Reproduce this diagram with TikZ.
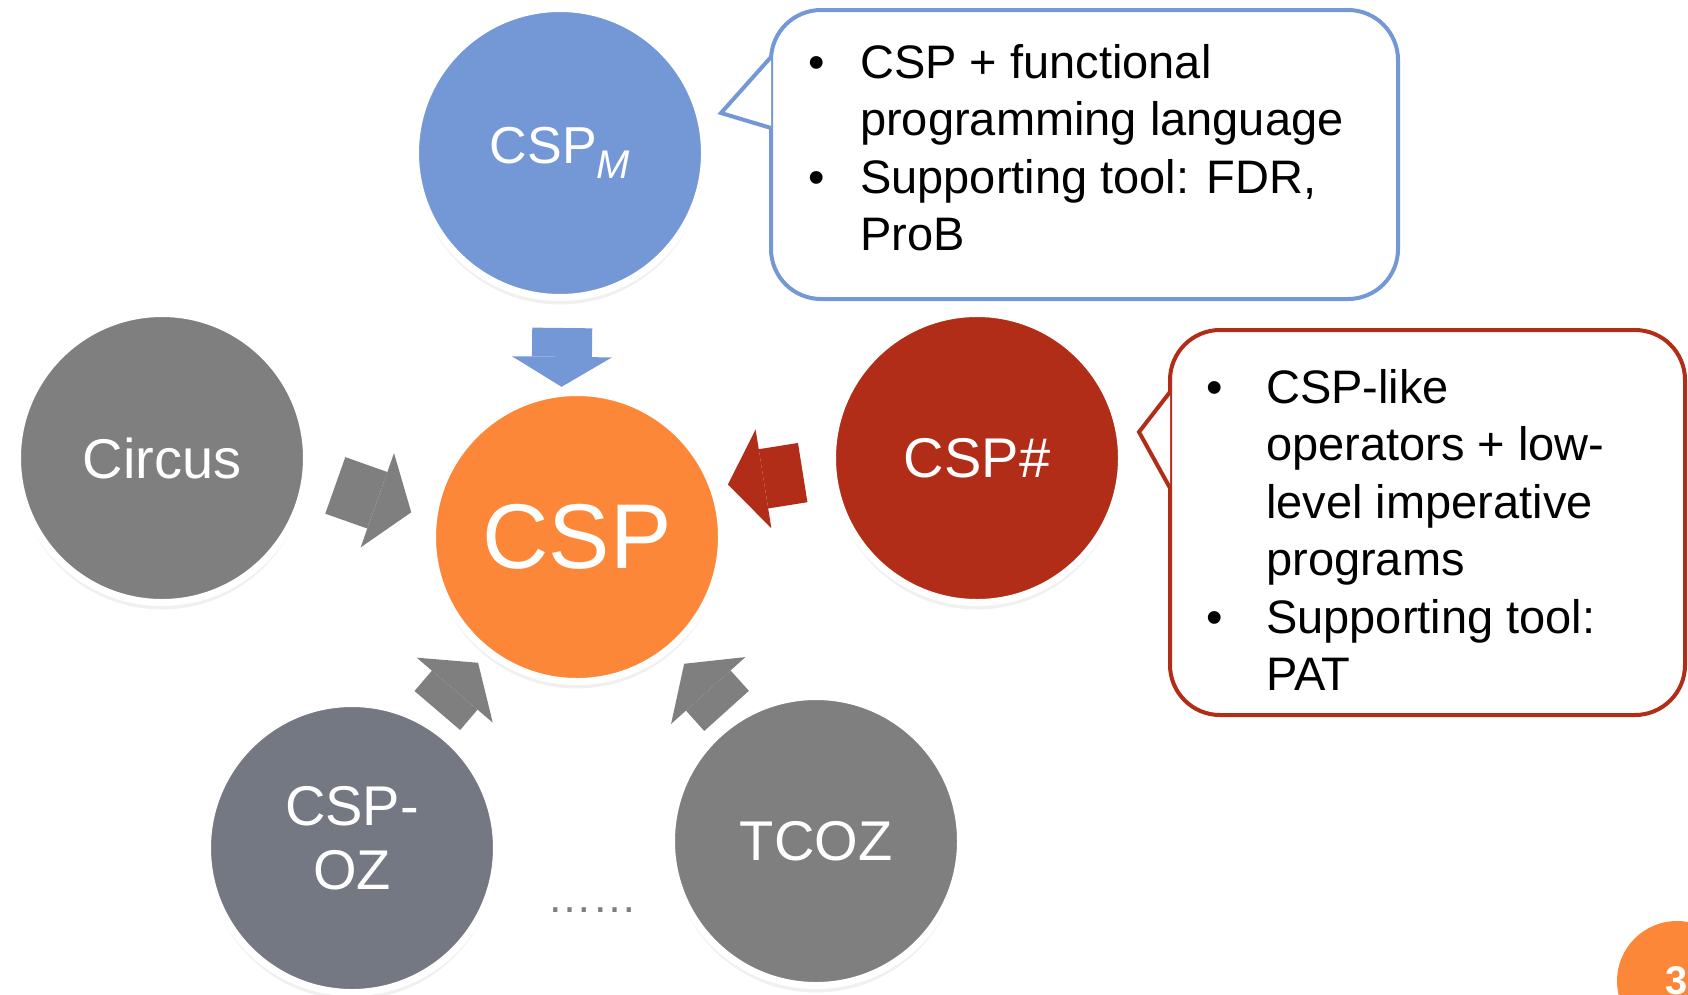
\documentclass[tikz,border=0pt]{standalone}
\usepackage{fontspec}
\setmainfont{Liberation Sans}
\usetikzlibrary{arrows.meta,shadows}

\definecolor{cspBlue}{RGB}{116,152,214}
\definecolor{cspOrange}{RGB}{253,135,56}
\definecolor{cspRed}{RGB}{178,45,24}
\definecolor{ballGray}{RGB}{127,127,127}
\definecolor{ozGray}{RGB}{116,120,130}

\newcommand{\bul}[1][0pt]{\makebox[60pt][l]{\hspace*{#1}\textbullet}}
\newcommand{\ind}{\hspace*{60pt}}

\tikzset{
  ball/.style={circle, draw=white, line width=7pt, minimum size=289pt, inner sep=0pt,
    text=white, font=\fontsize{56}{64}\selectfont,
    drop shadow={opacity=0.12, shadow xshift=0pt, shadow yshift=-7pt}},
  fatarrow/.style={line width=60pt,
    -{Triangle[length=#1 0 0, width=100pt 0 0, line width=0pt 0 0]}},
  fatarrow/.default=36pt,
  callout/.style={draw=#1, line width=4pt, fill=white, rounded corners=50pt,
    inner sep=0pt, anchor=north west},
  bullets/.style={anchor=north west, inner sep=0pt, align=left,
    font=\fontsize{47}{57.5}\selectfont}
}

\begin{document}
\begin{tikzpicture}[x=1pt, y=-1pt]
  \useasboundingbox (0,0) rectangle (1688,994);
  \clip (0,0) rectangle (1688,994);

  % call-outs
  \node[callout=cspBlue, minimum width=627pt, minimum height=289pt] (mbox) at (769,8) {};
  \filldraw[draw=cspBlue, fill=white, line width=4pt] (771,57) -- (721,113) -- (771,128);
  \node[bullets] (mtext) at (800,44) {\bul[8pt]CSP + functional\\
    \ind programming language\\
    \bul[8pt]Supporting tool: FDR,\\
    \ind ProB};

  \node[callout=cspRed, minimum width=515pt, minimum height=385pt] (hbox) at (1168,328) {};
  \filldraw[draw=cspRed, fill=white, line width=4pt] (1170,392) -- (1139,432) -- (1170,488);
  \node[bullets] (htext) at (1206,369) {\bul CSP-like\\
    \ind operators + low-\\
    \ind level imperative\\
    \ind programs\\
    \bul Supporting tool:\\
    \ind PAT};

  % the dialects
  \node[ball, fill=cspBlue] (cspm) at (560,153)
    {\fontsize{52}{60}\selectfont CSP\raisebox{-15pt}{\fontsize{40}{40}\selectfont\itshape M}};
  \node[ball, fill=cspOrange, font=\fontsize{92}{92}\selectfont] (csp) at (577,537) {CSP};
  \node[ball, fill=cspRed] (csph) at (977,458) {CSP\#};
  \node[ball, fill=ballGray] (circus) at (162,458) {Circus};
  \node[ball, fill=ozGray, align=center] (cspoz) at (352,848) {CSP-\\OZ\strut};
  \node[ball, fill=ballGray] (tcoz) at (816,841) {TCOZ};

  \draw[fatarrow=30pt, cspBlue, shorten <=27pt, shorten >=3pt] (cspm.-89) -- (csp.96);
  \draw[fatarrow, cspRed, shorten <=27pt, shorten >=12pt] (csph.184) -- (csp.20);
  \draw[fatarrow, ballGray, shorten <=28pt, shorten >=20pt] (circus.-7) -- (csp.173);
  \draw[fatarrow, ballGray, shorten <=14pt, shorten >=12pt] (cspoz.59) -- (csp.232);
  \draw[fatarrow, ballGray, shorten <=10pt, shorten >=18pt] (tcoz.124) -- (csp.-50);

  \node[text=ballGray, font=\fontsize{45}{45}\selectfont] (more) at (592,910) {……};

  % page number
  \node[circle, fill=cspOrange, minimum size=120pt, text=white,
    font=\bfseries\fontsize{40}{40}\selectfont] (page) at (1677,981) {3};
\end{tikzpicture}
\end{document}
